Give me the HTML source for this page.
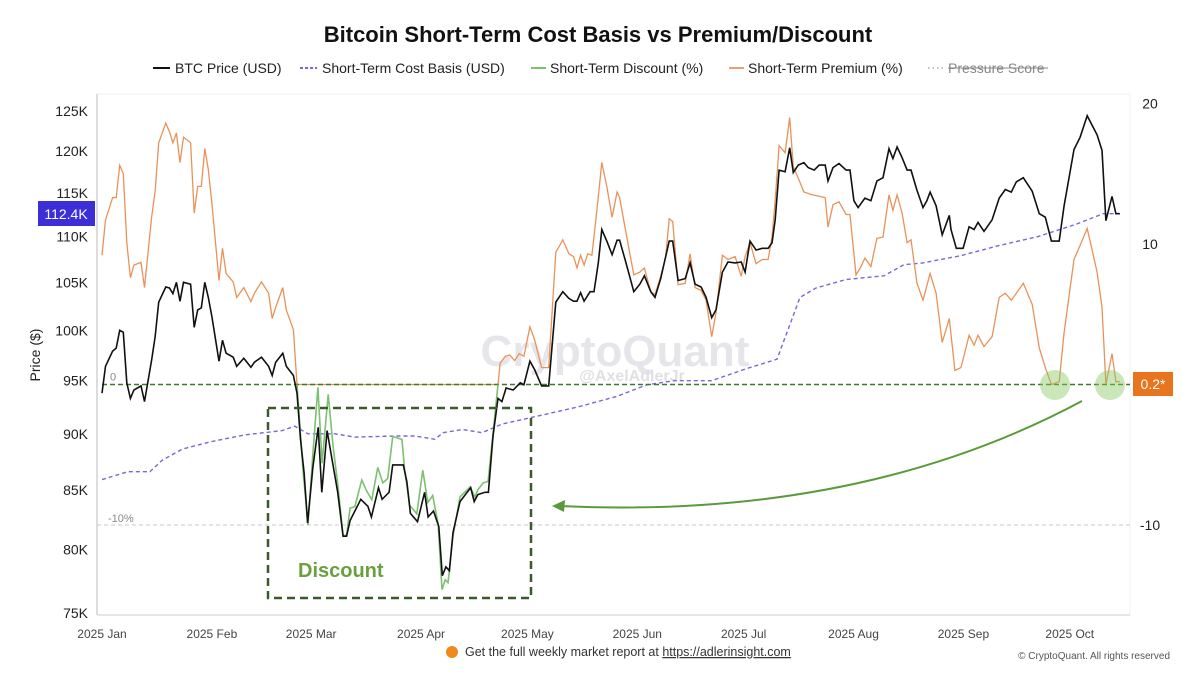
<!DOCTYPE html>
<html><head><meta charset="utf-8">
<style>
html,body{margin:0;padding:0;background:#fff;}
body{width:1200px;height:675px;overflow:hidden;font-family:"Liberation Sans",Arial,sans-serif;}
svg text{font-family:"Liberation Sans",Arial,sans-serif;}
</style></head>
<body>
<svg id="chart" width="1200" height="675" viewBox="0 0 1200 675" xmlns="http://www.w3.org/2000/svg">
  <text x="598" y="42" text-anchor="middle" font-size="22" font-weight="bold" fill="#111">Bitcoin Short-Term Cost Basis vs Premium/Discount</text>
  <g font-size="14" fill="#222">
    <g><line x1="153" y1="68" x2="170" y2="68" stroke="#111" stroke-width="2"/><text x="175" y="73">BTC Price (USD)</text></g>
    <g><line x1="300" y1="68" x2="317" y2="68" stroke="#7766dd" stroke-width="2" stroke-dasharray="3,2"/><text x="322" y="73">Short-Term Cost Basis (USD)</text></g>
    <g><line x1="531" y1="68" x2="546" y2="68" stroke="#7cc070" stroke-width="2"/><text x="550" y="73">Short-Term Discount (%)</text></g>
    <g><line x1="729" y1="68" x2="744" y2="68" stroke="#e8a070" stroke-width="2"/><text x="748" y="73">Short-Term Premium (%)</text></g>
    <g><line x1="928" y1="68" x2="943" y2="68" stroke="#aaa" stroke-width="1.5" stroke-dasharray="1.5,3"/><text x="948" y="73" fill="#888">Pressure Score</text><line x1="948" y1="68" x2="1048" y2="68" stroke="#888" stroke-width="1"/></g>
  </g>
  <text x="615" y="366" text-anchor="middle" font-size="44" font-weight="bold" fill="#e6e6ea">CryptoQuant</text>
  <text x="632" y="381" text-anchor="middle" font-size="16" font-weight="bold" fill="#e0e0e4">@AxelAdlerJr</text>
  <g id="axes"></g>
  <g id="marks"></g>
  <g id="annot"></g>
  <text x="465" y="656" font-size="12.5" fill="#333">Get the full weekly market report at <tspan text-decoration="underline">https://adlerinsight.com</tspan></text>
  <circle cx="452" cy="652" r="6" fill="#f08a1c"/>
  <text x="1170" y="659" text-anchor="end" font-size="10" fill="#555">© CryptoQuant. All rights reserved</text>
</svg>
<script>
const xTickLabels = ["2025 Jan","2025 Feb","2025 Mar","2025 Apr","2025 May","2025 Jun","2025 Jul","2025 Aug","2025 Sep","2025 Oct"];
const xTickDays = [0,31,59,90,120,151,181,212,243,273];
const yLeftTicks = [75,80,85,90,95,100,105,110,115,120,125];
const yRightTicks = [-10,10,20];
const btcPrice = [[0,93.8],[1,96.4],[3,97.9],[4,98.2],[5,100],[6,99.8],[7,94.8],[8,93.3],[9,94.1],[11,94.5],[12,93.0],[14,97],[15,99.4],[16,102.9],[18,104.5],[19,104.4],[20,103.8],[21,105],[22,103],[23,105],[25,104.8],[26,100.3],[27,102.1],[28,102.3],[29,105],[30,103.4],[31,101.4],[33,96.9],[34,99],[35,97.7],[37,97.3],[38,96.4],[40,97.2],[42,96.3],[43,96.8],[45,97.3],[47,96.4],[48,95.5],[49,96.8],[51,97.7],[52,96.4],[54,95.5],[55,93.8],[56,89.5],[57,86.5],[58,82.2],[59.5,87],[61,90.6],[62,84.8],[63.5,90.3],[65,87.5],[66.5,84.8],[68,81.1],[69,81.1],[70,82.4],[71,83],[73,84.2],[75,83.6],[76,82.7],[78,85.2],[79,84.2],[81,84.8],[82,87.2],[85,87.2],[86,85.7],[87,83],[89,82.3],[91,84.8],[92,82.7],[93.5,83.2],[95,81.9],[96,77.9],[97,78.6],[98,78.3],[99,81.4],[101,84],[103,84.8],[104,85.2],[105,84],[106,84.6],[108,84.8],[109,84.8],[110.3,89.8],[111.7,93.3],[112.8,93],[114,94.3],[116,94.1],[118,94.8],[119,94.6],[120.7,96.9],[122,96.1],[124,94.5],[126,94.5],[128,102.9],[130,104],[131.7,103.3],[133,103],[134,103],[135,103.9],[136,103],[137.7,104],[138.8,104],[140,107.1],[141,110.8],[142.4,109.5],[143.9,108],[145.3,109.6],[146,109.6],[147.8,107.1],[150,104],[151.7,104.8],[153,105.7],[154.8,104],[156,103.4],[157.6,105.4],[159,107.8],[160,109.5],[161,109.5],[162.5,105.2],[164.5,105.4],[165.9,107.1],[167.3,104.8],[169,104.5],[170.4,103.4],[172,101.3],[173.2,102.1],[175,106.1],[176.6,107.2],[178.6,107.1],[180.3,107.2],[181.4,106.1],[182.8,109.5],[184.5,108.5],[186.2,108.7],[187.9,108.7],[189,109.3],[189.9,111.9],[191,117.7],[192.7,117.5],[194,120.4],[195,117.4],[196.4,118.3],[198,118.6],[199.2,118],[200.9,117.7],[202.3,118.3],[204,118.3],[204.8,116.4],[206.2,118],[207.9,118.5],[209.9,117.7],[211,117.7],[212.1,114.1],[213.3,113.3],[215.2,114.4],[216.9,114.1],[218.6,116.4],[220.3,116.8],[222,120.3],[223.1,119.1],[224.3,120.5],[225.7,119.2],[227.1,117.7],[228.2,117.7],[229.9,115.3],[231.6,113.3],[232.7,114.1],[233.6,115.1],[235.3,113.5],[237,110.2],[239,112.4],[239.5,110.8],[241,108.7],[242.9,108.7],[244.6,111.1],[246,110.8],[247.1,111.6],[248.8,110.6],[251.1,111.9],[253.1,114.4],[254.8,115.4],[256.5,115.1],[257.9,116.3],[259.9,116.8],[262.4,115.2],[264.4,112.6],[266.1,112.2],[267.8,109.5],[270,109.5],[271.4,113.5],[274.2,120.2],[275.9,121.7],[277.9,124.4],[280.7,122],[282.1,120.1],[283.2,111.8],[284.9,114.6],[286,112.6],[287.1,112.6]];
const costBasis = [[0,85.9],[7.3,86.6],[13.5,86.6],[16.9,87.6],[22.6,88.6],[31,89.3],[40.3,89.9],[50.8,90.3],[54.4,90.7],[58.1,90],[65.7,90],[71.4,89.7],[82.7,89.8],[88.3,89.8],[93.9,89.5],[96.2,90.1],[101.6,90.4],[107.2,90.1],[112.8,90.9],[125,91.8],[134.3,92.5],[145.3,93.5],[153.7,94.6],[161.4,95],[172,95],[182,96.2],[190.4,97.1],[196.9,103.4],[201.4,104.4],[209.9,105.3],[220.6,105.7],[226.2,106.9],[231.6,107.1],[242.3,107.9],[253,109],[264,110],[274.8,111.4],[282.4,112.6],[287.1,112.6]];
const premiumPct = [[0,9.2],[1,11.7],[3,13.3],[4,13.3],[5,15.6],[6,15.0],[7,10.1],[8,7.6],[9,8.5],[11,8.7],[12,6.9],[14,11.9],[15,13.8],[16,17.2],[18,18.6],[19,18],[20,17.2],[21,17.9],[22,15.8],[23,17.6],[25,17.2],[26,12.2],[27,14.1],[28,14.1],[29,16.8],[30,15.3],[31,12.9],[33,7.4],[34,9.7],[35,7.9],[37,7.3],[38,6.2],[40,6.9],[42,5.9],[43,6.5],[45,7.3],[47,6.5],[48,4.7],[49,5.5],[51,6.9],[52,5.3],[54,3.9],[55,0],[111.7,0],[112.3,1.5],[113.7,2],[115,2.1],[116.4,1.7],[117.7,2.2],[119,2],[120.7,4.1],[122,3.2],[124,1.2],[126,1.2],[128,9.4],[130,10.3],[131.7,9.3],[133,9.1],[134,8.3],[135,9.2],[136,8.5],[137,9.3],[138.2,9.2],[139.6,12.4],[141,15.8],[142.4,14.1],[143.9,11.9],[145.3,13.7],[146,13.3],[147.8,10.8],[150,7.8],[151.7,8],[153,8.3],[154.8,6.6],[156,6.4],[157.6,7.7],[159,9.1],[160,11.8],[161,11.6],[162.5,7.1],[164.5,7.2],[165.9,9.3],[167.3,6.9],[169,6.7],[170.4,6],[172,3.4],[173.2,5.1],[175,9.2],[176.6,8.9],[178.6,9.1],[180.3,7.7],[181.4,9.1],[182.8,10.1],[184.5,8.6],[186.2,8.9],[187.9,8.9],[189,10.5],[189.9,13.1],[191,17],[192.7,16.5],[194,19],[195,15.5],[196.4,14.7],[198,13.7],[200.3,13.5],[202.3,13.4],[204,13.3],[204.8,11.2],[206.2,12.8],[207.9,13],[209.9,12.1],[211,12.1],[212.7,7.8],[213.9,8.3],[215.2,9],[216.9,8.4],[218.6,10.4],[220.3,10.5],[222,13.5],[223.1,12.4],[224.3,13.5],[225.7,12.2],[227.1,10.1],[228.2,10.3],[229.9,7.2],[231.6,6],[233.6,7.9],[235.3,6.5],[237,3],[239,4.7],[240.6,1],[242.3,1.2],[244.6,3.5],[246,2.8],[247.1,3.5],[248.8,2.7],[251.1,3.4],[253.1,6.2],[254.8,6.5],[256.5,6],[257.9,6.5],[259.9,7.2],[262.4,5.7],[264.4,2.6],[266.1,1.2],[267.8,0],[270,0.2],[271.4,3.7],[274.2,8.9],[275.9,9.9],[277.9,11.1],[280.7,8],[282.1,5.5],[283.2,0],[284.9,2.2],[286,0.2],[287.1,0.2]];
const discountPct = [[55,0],[56.7,-6.1],[58.1,-10],[59.5,-4.9],[60.9,-0.2],[62.1,-5.6],[63.8,-0.7],[65.2,-4.4],[66.6,-7.3],[68,-10.8],[69,-10.7],[70,-8.8],[71.3,-8.7],[73.3,-6.8],[74.7,-7.6],[76.1,-8.2],[77.8,-5.9],[79.2,-7],[80.6,-6.7],[82,-3.7],[84.6,-3.9],[85.4,-6.1],[86.8,-8.6],[88.8,-9.2],[90.5,-6.1],[91.9,-8.4],[93.3,-7.9],[94.8,-9.9],[95.9,-14.6],[96.8,-13.9],[97.6,-14.1],[99,-10.8],[101,-8],[103,-7.5],[103.8,-7.3],[105.2,-8],[106,-7.5],[107.5,-7],[108.9,-6.9],[110.3,-3.5],[111.7,0]];
const lastPrice = "112.4K";
const lastPremium = "0.2*";

const NS="http://www.w3.org/2000/svg";
const X0=102, PX_PER_DAY=3.545, PLOT_L=97, PLOT_R=1130, PLOT_T=94, PLOT_B=615;
const xScale = d => X0 + d*PX_PER_DAY;
const yLeft = v => 111 + (Math.log10(125) - Math.log10(v)) / Math.log10(125/75) * 502;
const yRight = p => 384.5 - p*14.05;
function mk(tag, attrs, parent){const e=document.createElementNS(NS,tag);for(const k in attrs)e.setAttribute(k,attrs[k]);parent.appendChild(e);return e;}
const axes=document.getElementById('axes'), marks=document.getElementById('marks'), annot=document.getElementById('annot');

// frame
const frame = mk('rect',{x:PLOT_L,y:PLOT_T,width:PLOT_R-PLOT_L,height:PLOT_B-PLOT_T,fill:'none',stroke:'#f0f0f0'},axes);


const yAxisLine = mk('line',{x1:PLOT_L,y1:PLOT_T,x2:PLOT_L,y2:PLOT_B,stroke:'#bbb'},axes);


const xAxisLine = mk('line',{x1:PLOT_L,y1:PLOT_B,x2:PLOT_R,y2:PLOT_B,stroke:'#ccc'},axes);



yLeftTicks.forEach(v=>{
  const t=mk('text',{x:88,y:yLeft(v)+5,'text-anchor':'end','font-size':14,fill:'#222'},axes);
  t.textContent=v+'K';
  
  
});
yRightTicks.forEach(v=>{
  const t=mk('text',{x:1150,y:yRight(v)+5,'text-anchor':'middle','font-size':14,fill:'#222'},axes);
  t.textContent=v;
  
  
});
xTickLabels.forEach((lab,i)=>{
  const t=mk('text',{x:xScale(xTickDays[i]),y:638,'text-anchor':'middle','font-size':12,fill:'#444'},axes);
  t.textContent=lab;
  
  
});
const yTitle=mk('text',{x:40,y:355,'text-anchor':'middle','font-size':14,fill:'#222',transform:'rotate(-90 40 355)'},axes);
yTitle.textContent='Price ($)';



// reference lines
const minus10=mk('line',{x1:PLOT_L,y1:yRight(-10),x2:PLOT_R,y2:yRight(-10),stroke:'#c8c8c8','stroke-dasharray':'4,3'},axes);


const m10t=mk('text',{x:108,y:yRight(-10)-3,'font-size':11,fill:'#888'},axes);
m10t.textContent='-10%';


const zt=mk('text',{x:110,y:yRight(0)-4,'font-size':11,fill:'#888'},axes);
zt.textContent='0';



function path(data, xs, ys){return data.map((p,i)=>(i?'L':'M')+xs(p[0]).toFixed(1)+','+ys(p[1]).toFixed(1)).join('');}

const cb=mk('path',{d:path(costBasis,xScale,yLeft),fill:'none',stroke:'#7766dd','stroke-width':1.4,'stroke-dasharray':'4,3'},marks);


const pr=mk('path',{d:path(premiumPct,xScale,yRight),fill:'none',stroke:'#e8925a','stroke-width':1.3},marks);


const zero=mk('line',{x1:102,y1:yRight(0),x2:PLOT_R,y2:yRight(0),stroke:'#3a7a2a','stroke-width':1.5,'stroke-dasharray':'5,3'},marks);


const ds=mk('path',{d:path(discountPct,xScale,yRight),fill:'none',stroke:'#7cc070','stroke-width':1.6},marks);


const bp=mk('path',{d:path(btcPrice,xScale,yLeft),fill:'none',stroke:'#111','stroke-width':1.6},marks);



// annotations
const box=mk('rect',{x:268,y:408,width:263,height:190,fill:'none',stroke:'#3d5a2a','stroke-width':2.5,'stroke-dasharray':'8,5'},annot);


const dt=mk('text',{x:298,y:577,'font-size':20,'font-weight':'bold',fill:'#6aa040'},annot);
dt.textContent='Discount';


[1055,1110].forEach(cx=>{
  const c=mk('circle',{cx:cx,cy:385,r:15,fill:'rgba(140,200,100,0.45)'},annot);
  
  
});
const arr=mk('path',{d:'M1082,401 Q860,520 560,506',fill:'none',stroke:'#5a9a3a','stroke-width':2},annot);


const ah=mk('path',{d:'M552,506 L565,500 L564,512 Z',fill:'#5a9a3a'},annot);



const lb=mk('rect',{x:38,y:201,width:57,height:25,fill:'#3d2fd8'},annot);


const lbt=mk('text',{x:66,y:219,'text-anchor':'middle','font-size':14,fill:'#fff'},annot);
lbt.textContent=lastPrice;


const rb=mk('rect',{x:1133,y:372,width:40,height:24,fill:'#e8741e'},annot);


const rbt=mk('text',{x:1153,y:389,'text-anchor':'middle','font-size':14,fill:'#fff'},annot);
rbt.textContent=lastPremium;


</script>
</body></html>
